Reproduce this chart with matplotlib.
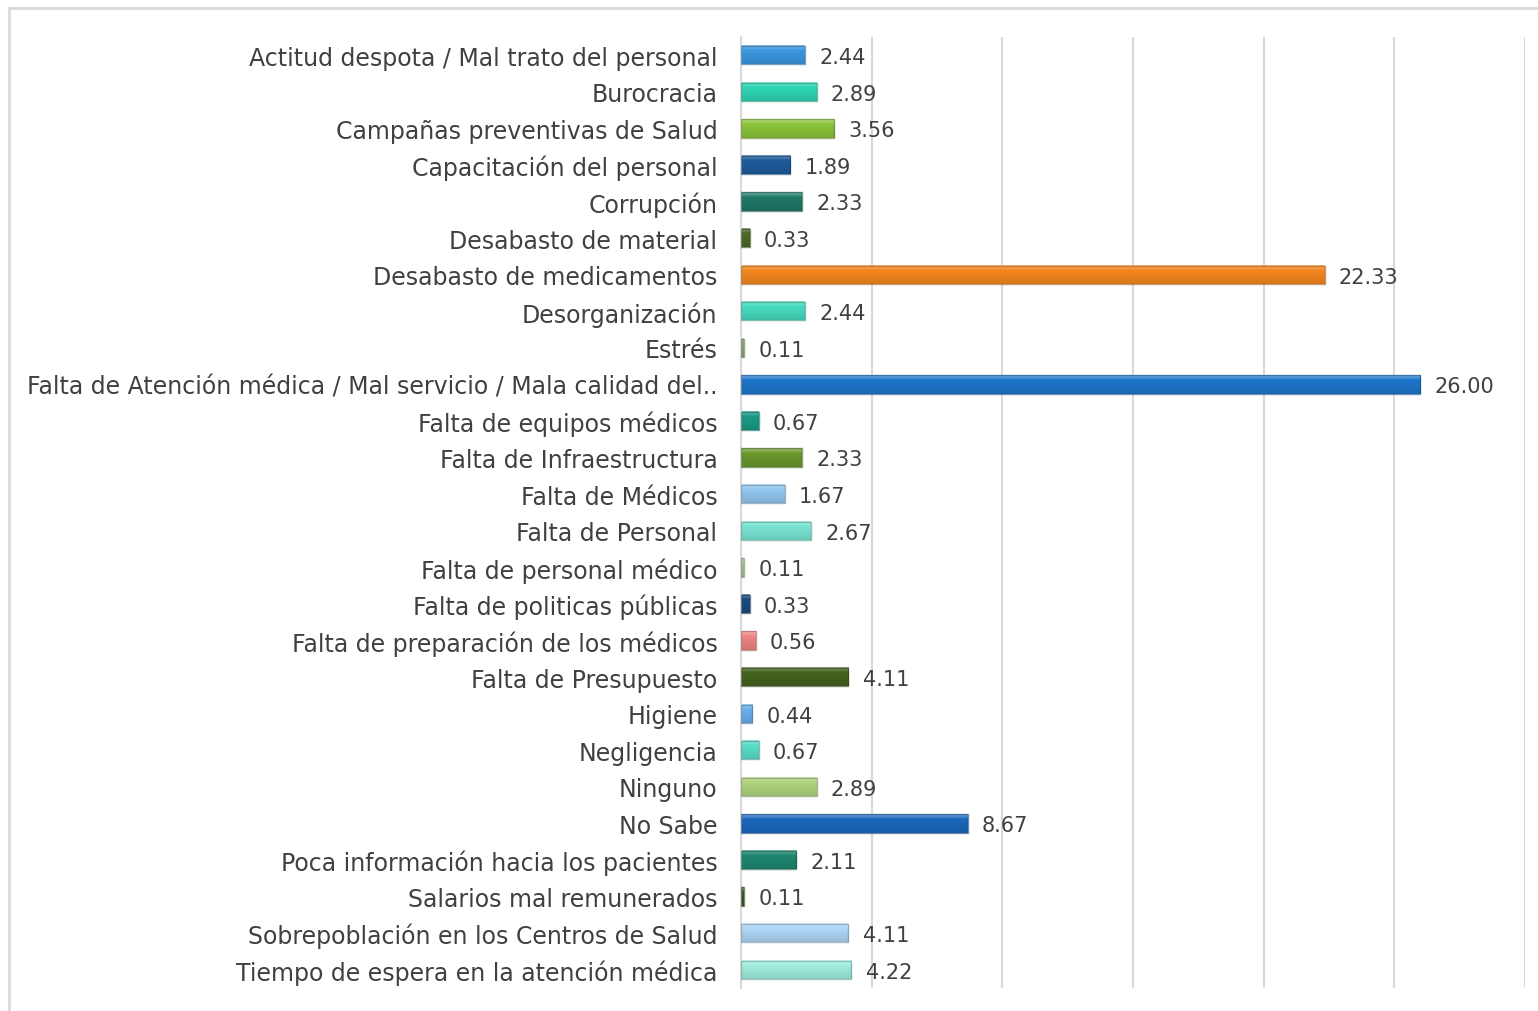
import numpy as np
import matplotlib
matplotlib.use("Agg")
import matplotlib.pyplot as plt
from matplotlib.colors import to_rgb
from matplotlib.patches import Rectangle

categories = [
    "Actitud despota / Mal trato del personal",
    "Burocracia",
    "Campañas preventivas de Salud",
    "Capacitación del personal",
    "Corrupción",
    "Desabasto de material",
    "Desabasto de medicamentos",
    "Desorganización",
    "Estrés",
    "Falta de Atención médica / Mal servicio / Mala calidad del..",
    "Falta de equipos médicos",
    "Falta de Infraestructura",
    "Falta de Médicos",
    "Falta de Personal",
    "Falta de personal médico",
    "Falta de politicas públicas",
    "Falta de preparación de los médicos",
    "Falta de Presupuesto",
    "Higiene",
    "Negligencia",
    "Ninguno",
    "No Sabe",
    "Poca información hacia los pacientes",
    "Salarios mal remunerados",
    "Sobrepoblación en los Centros de Salud",
    "Tiempo de espera en la atención médica",
]
values = [2.44, 2.89, 3.56, 1.89, 2.33, 0.33, 22.33, 2.44, 0.11, 26.00,
          0.67, 2.33, 1.67, 2.67, 0.11, 0.33, 0.56, 4.11, 0.44, 0.67,
          2.89, 8.67, 2.11, 0.11, 4.11, 4.22]
colors = ["#3b98e0", "#2ed6b6", "#8cc43a", "#1f5c9c", "#1f7866", "#4a6a28",
          "#f5871f", "#48dcc0", "#8aa870", "#1e76cc", "#1a9c86", "#6a982c",
          "#92c8f2", "#7ae6d4", "#a8c68e", "#1a4a80", "#f08482", "#44631e",
          "#6ab0ee", "#5adec8", "#b0d67e", "#1a68bc", "#1f8870", "#3d5a20",
          "#b0d8f8", "#a0eedf"]

fig = plt.figure(figsize=(15.38, 10.12), dpi=100)
fig.patches.append(Rectangle((9 / 1538, -0.1), 1.2, 1 - 9 / 1012 + 0.1,
                             transform=fig.transFigure, fill=False,
                             edgecolor="#d9d9d9", linewidth=2))
ax = fig.add_axes([741 / 1538, 1 - 989 / 1012, 784 / 1538, 951 / 1012])

y = np.arange(len(categories))
bars = ax.barh(y, values, height=0.5, color=colors, edgecolor="none", zorder=2)

# simple vertical gradient + edge to imitate the bevelled bars
for b, c in zip(bars, colors):
    base = np.array(to_rgb(c))
    light = base + (1 - base) * 0.4
    dark = base * 0.88
    t = np.linspace(0, 1, 24)[:, None]
    grad = np.where(t < 0.25, light + (base - light) * (t / 0.25),
                    base + (dark - base) * ((t - 0.25) / 0.75))
    img = grad[:, None, :].repeat(2, axis=1)
    x0, y0, w, h = b.get_x(), b.get_y(), b.get_width(), b.get_height()
    ax.imshow(img, extent=(x0, x0 + w, y0 + h, y0), aspect="auto",
              interpolation="bilinear", zorder=2.5)
    ax.add_patch(Rectangle((x0, y0), w, h, fill=False,
                           edgecolor=tuple(base * 0.65), linewidth=1, alpha=0.6,
                           zorder=3))

for yi, v in zip(y, values):
    ax.text(v + 0.55, yi + 0.05, f"{v:.2f}", va="center", ha="left",
            fontsize=15, color="#404040", zorder=4)

ax.set_xlim(0, 30)
ax.set_ylim(len(categories) - 0.5, -0.5)
ax.set_xticks(np.arange(0, 31, 5))
ax.set_xticklabels([])
ax.set_yticks(y)
ax.set_yticklabels(categories, fontsize=17, color="#404040")
ax.tick_params(axis="both", length=0)
ax.tick_params(axis="y", pad=17)
ax.grid(axis="x", color="#d9d9d9", linewidth=1.5, zorder=0)
for s in ["top", "right", "bottom"]:
    ax.spines[s].set_visible(False)
ax.spines["left"].set_color("#d9d9d9")
ax.spines["left"].set_linewidth(1.5)

fig.savefig("out.png", dpi=100)
